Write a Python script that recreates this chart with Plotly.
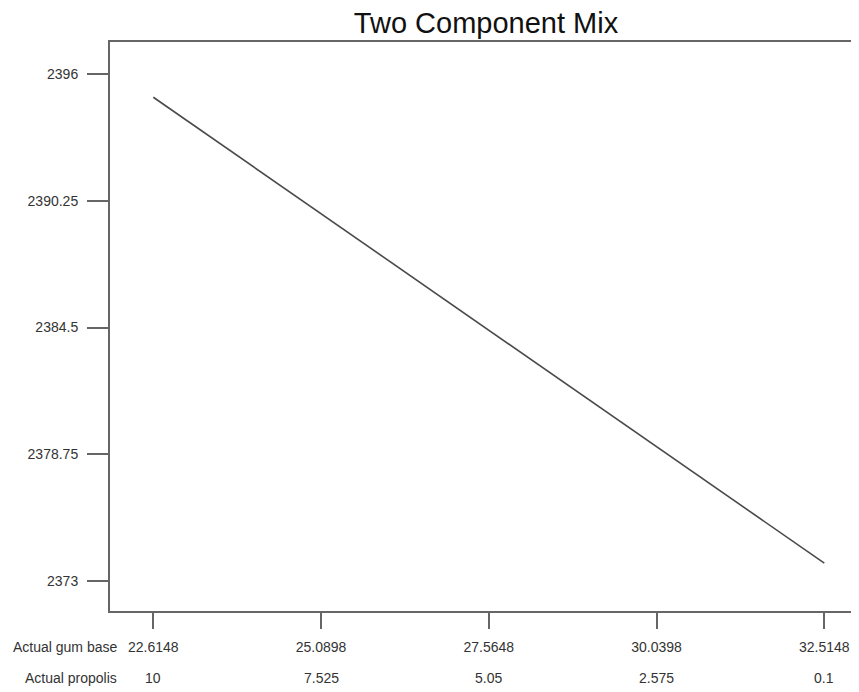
import plotly.graph_objects as go

title = "Two Component Mix"
gum_base_ticks = [22.6148, 25.0898, 27.5648, 30.0398, 32.5148]
gum_base_labels = ["22.6148", "25.0898", "27.5648", "30.0398", "32.5148"]
propolis_labels = ["10", "7.525", "5.05", "2.575", "0.1"]
y_ticks = [2373, 2378.75, 2384.5, 2390.25, 2396]
y_labels = ["2373", "2378.75", "2384.5", "2390.25", "2396"]

line_x = [22.6148, 32.5148]
line_y = [2394.956, 2373.80]

font_family = "Liberation Sans, Arial, sans-serif"
tick_color = "#333333"
axis_color = "#666666"

fig = go.Figure()
fig.add_trace(go.Scatter(x=line_x, y=line_y, mode="lines",
                         line=dict(color="#4a4a4a", width=1.6), showlegend=False,
                         hoverinfo="skip"))

fig.update_layout(
    width=859, height=684,
    margin=dict(l=102, r=0, t=34, b=81),
    paper_bgcolor="white", plot_bgcolor="white",
    title=dict(text=title, x=478 / 859, xanchor="center", y=0.979, yanchor="middle",
               font=dict(family=font_family, size=29, color="#111")),
    font=dict(family=font_family, size=14, color=tick_color),
    showlegend=False,
)

fig.update_xaxes(
    range=[21.9760, 33.1448], showgrid=False, zeroline=False,
    showline=True, linecolor=axis_color, linewidth=2, mirror=True,
    ticks="outside", ticklen=16, tickwidth=2, tickcolor=axis_color,
    tickvals=gum_base_ticks, ticktext=gum_base_labels, ticklabelstandoff=6,
    tickfont=dict(family=font_family, size=14, color=tick_color),
)
fig.update_yaxes(
    range=[2371.625, 2397.466], showgrid=False, zeroline=False,
    showline=True, linecolor=axis_color, linewidth=2, mirror=False,
    ticks="outside", ticklen=21, tickwidth=2, tickcolor=axis_color,
    tickvals=y_ticks, ticktext=y_labels, ticklabelstandoff=6,
    tickfont=dict(family=font_family, size=14, color=tick_color),
)

for xv, lab in zip(gum_base_ticks, propolis_labels):
    fig.add_annotation(x=xv, xref="x", y=-0.1177, yref="paper", text=lab,
                       showarrow=False, xanchor="center", yanchor="middle",
                       font=dict(family=font_family, size=14, color=tick_color))

fig.add_annotation(x=0.012, xref="paper", y=-0.0632, yref="paper", text="Actual gum base",
                   showarrow=False, xanchor="right", yanchor="middle",
                   font=dict(family=font_family, size=14, color=tick_color))
fig.add_annotation(x=0.012, xref="paper", y=-0.1177, yref="paper", text="Actual propolis",
                   showarrow=False, xanchor="right", yanchor="middle",
                   font=dict(family=font_family, size=14, color=tick_color))

fig.write_html("out.html")
